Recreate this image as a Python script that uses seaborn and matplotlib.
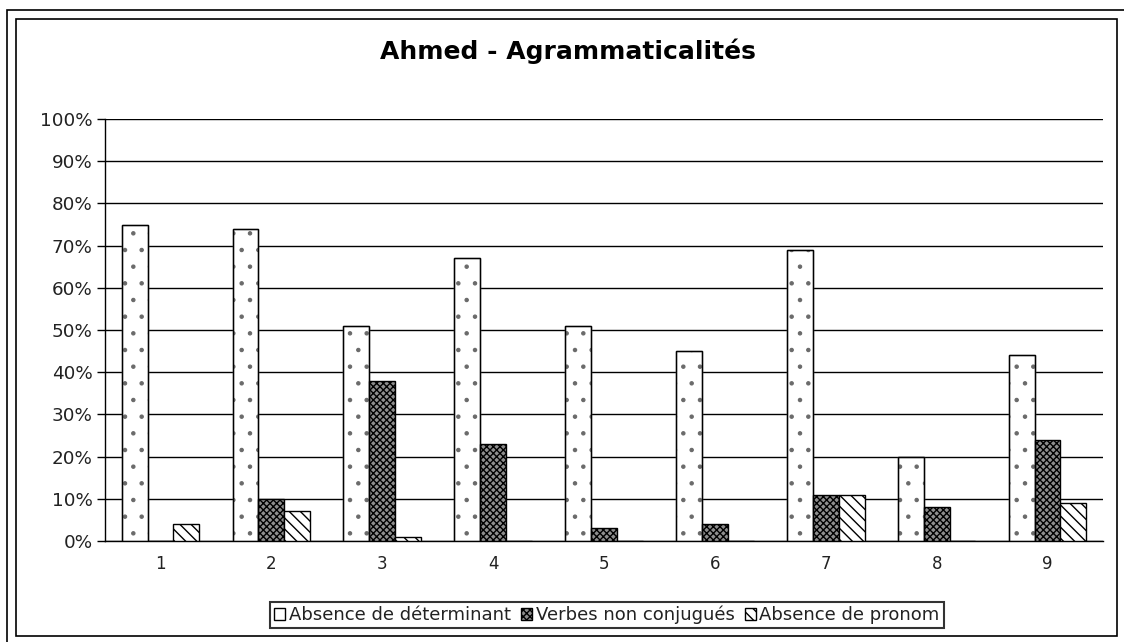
import matplotlib
matplotlib.use("Agg")
import matplotlib.pyplot as plt
import seaborn as sns
import pandas as pd
import numpy as np
from matplotlib.patches import Rectangle, Patch
from matplotlib.ticker import FixedLocator, FuncFormatter

# ---- data ----
categories = ["1", "2", "3", "4", "5", "6", "7", "8", "9"]
series_names = ["Absence de déterminant", "Verbes non conjugués", "Absence de pronom"]
absence_determinant = [75, 74, 51, 67, 51, 45, 69, 20, 44]
verbes_non_conjugues = [0, 10, 38, 23, 3, 4, 11, 8, 24]
absence_pronom = [4, 7, 1, 0, 0, 0, 11, 0, 9]
y_ticks = [0, 10, 20, 30, 40, 50, 60, 70, 80, 90, 100]
title = "Ahmed - Agrammaticalités"

rows = []
for name, vals in zip(series_names, [absence_determinant, verbes_non_conjugues, absence_pronom]):
    for c, v in zip(categories, vals):
        rows.append({"cat": c, "series": name, "val": v})
df = pd.DataFrame(rows)

sns.set_style("white")
plt.rcParams["font.family"] = ["DejaVu Sans"]
plt.rcParams["hatch.linewidth"] = 1.0

W, H = 1124, 642
fig = plt.figure(figsize=(W / 100, H / 100), dpi=100)
fig.patch.set_facecolor("white")

ax_l, ax_r, ax_t, ax_b = 105, 1103, 119, 541
ax = fig.add_axes([ax_l / W, 1 - ax_b / H, (ax_r - ax_l) / W, (ax_b - ax_t) / H])

facecolors = ["white", "#8e8e8e", "white"]
hatches = [".", "xxxxx", "\\\\\\"]
hatch_colors = ["#6a6a6a", "black", "black"]

sns.barplot(data=df, x="cat", y="val", hue="series", order=categories,
            hue_order=series_names, palette=facecolors, width=0.70,
            edgecolor="black", linewidth=1.0, saturation=1, legend=False,
            ax=ax, errorbar=None, zorder=3)

for cont, h, fc, hc in zip(ax.containers, hatches, facecolors, hatch_colors):
    for p in cont:
        p.set_hatch(h)
        p.set_facecolor(fc)
        p.set_edgecolor(hc)
        if hasattr(p, "set_hatch_linewidth"):
            p.set_hatch_linewidth(0.8 if h == "." else 1.0)
        if hc != "black":
            # black outline over the bar (hatch drawn in grey)
            ax.add_patch(Rectangle(p.get_xy(), p.get_width(), p.get_height(),
                                   fill=False, edgecolor="black", linewidth=1.0,
                                   zorder=3.5))

ax.set_xlim(-0.5, len(categories) - 0.5)
ax.set_ylim(0, 100)
ax.set_xlabel("")
ax.set_ylabel("")

ax.yaxis.set_major_locator(FixedLocator(y_ticks))
ax.yaxis.set_major_formatter(FuncFormatter(lambda v, p: f"{int(v)}%"))
ax.yaxis.grid(True, color="black", linewidth=1.0, zorder=0)
ax.set_axisbelow(True)

ax.set_xticks(range(len(categories)))
ax.set_xticklabels(categories)
ax.set_xticks(np.arange(-0.5, len(categories), 1.0), minor=True)
ax.tick_params(axis="x", which="major", length=0, pad=10, labelsize=12, colors="black")
ax.tick_params(axis="x", which="minor", length=6, width=1, direction="out", color="black")
ax.tick_params(axis="y", which="major", length=6, width=1, direction="out",
               left=True, labelsize=13.2, pad=3, colors="black")
for t in ax.get_yticklabels() + ax.get_xticklabels():
    t.set_color("#222222")

for s in ["top", "right"]:
    ax.spines[s].set_visible(False)
for s in ["left", "bottom"]:
    ax.spines[s].set_visible(True)
    ax.spines[s].set_color("black")
    ax.spines[s].set_linewidth(1.0)

# title
fig.text(568 / W, 1 - 51 / H, title, ha="center", va="center",
         fontsize=18, fontweight="bold", color="black")

# legend
legend_hatches = ["", "xxxxx", "\\\\\\"]
handles = [Patch(facecolor=fc, edgecolor="black", hatch=h, linewidth=1.0)
           for fc, h in zip(facecolors, legend_hatches)]
leg = fig.legend(handles, series_names, loc="center",
                 bbox_to_anchor=(607 / W, 1 - 615 / H), ncol=3, frameon=True,
                 fancybox=False, edgecolor="black", fontsize=13,
                 handlelength=0.62, handleheight=0.62, handletextpad=0.2,
                 columnspacing=0.55, borderpad=0.22, borderaxespad=0)
leg.get_frame().set_linewidth(1.5)
for t in leg.get_texts():
    t.set_color("#222222")

# chart borders
fig.patches.append(Rectangle((7 / W, -0.1), 1.2, 1 - 10 / H + 0.1, transform=fig.transFigure,
                             fill=False, edgecolor="black", linewidth=1.2))
fig.patches.append(Rectangle((16 / W, 1 - 636 / H), (1117 - 16) / W, (636 - 19) / H,
                             transform=fig.transFigure, fill=False, edgecolor="black",
                             linewidth=1.2))

fig.savefig("out.png", dpi=100, facecolor="white")
